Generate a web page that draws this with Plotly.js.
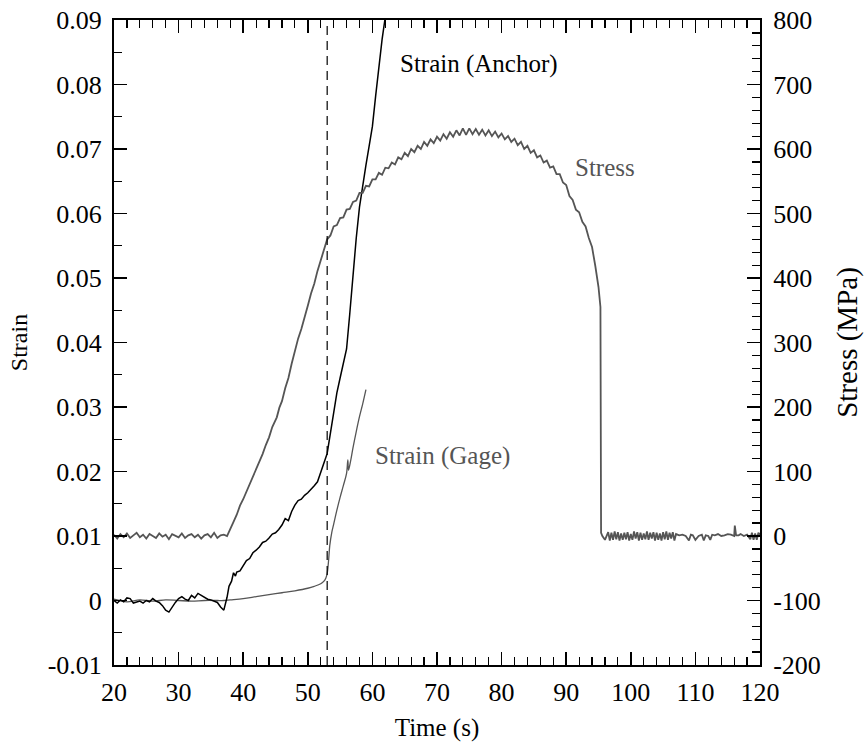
<!DOCTYPE html>
<html>
<head>
<meta charset="utf-8">
<script src="https://cdn.plot.ly/plotly-3.0.1.min.js"></script>
<style>html,body{margin:0;padding:0;background:#fff;}#chart{width:864px;height:747px;}</style>
</head>
<body>
<div id="chart"></div>
<script>
// Stress (MPa) vs time (s)
var stressT = [20,20.5,21,21.5,22,22.5,23,23.5,24,24.5,25,25.5,26,26.5,27,27.5,28,28.5,29,29.5,30,30.5,31,31.5,32,32.5,33,33.5,34,34.5,35,35.5,36,36.5,37,37.5,
  38,38.5,39,39.5,40,40.6,41,41.5,42,42.6,43,43.5,44,44.5,45.2,45.6,46,46.5,47,47.5,48,48.5,49,49.5,50,50.5,51,51.5,52,52.5,
  53,53.5,54,54.5,55,55.5,56,56.5,57,57.5,58,58.5,59,59.5,60,60.5,61,61.5,62,62.5,63,63.5,64,64.5,65,65.5,66,66.5,67,67.5,68,68.5,69,69.5,
  70,70.5,71,71.5,72,72.5,73,73.5,74,74.5,75,75.5,76,76.5,77,77.5,78,78.5,79,79.5,80,80.5,81,81.5,82,82.5,83,83.5,84,84.5,85,85.5,86,86.5,87,87.5,88,88.5,89,89.5,
  90,90.5,91,91.5,92,92.5,93,93.5,94,94.5,95,95.3,95.4,
  95.6,96,96.5,96.75,97,97.25,97.5,97.75,98,98.25,98.5,98.75,99,99.25,99.5,99.75,100,100.25,100.5,100.75,101,101.25,101.5,101.75,102,102.25,102.5,102.75,103,103.25,103.5,103.75,104,104.25,104.5,104.75,105,105.25,105.5,105.75,106,106.25,106.5,106.75,107,
  107.5,108,108.5,109,109.3,109.6,110,110.5,111,111.3,111.6,112,112.3,112.6,113,113.5,114,114.5,115,115.5,116,116.1,116.3,116.7,117,117.5,118,118.5,118.75,119,119.25,119.5,119.75,120];
var stressV = [2,-4,3,-2,4,-3,1,5,-2,2,-4,3,0,-3,4,-1,2,-5,3,0,-2,4,-3,1,3,-2,2,-4,1,3,-2,5,-3,1,2,0,
  10,22,33,47,57,71,79,93,103,119,127,141,153,169,184,199,209,229,245,267,287,306,321,341,357,376,391,411,427,445,
  460,466,480,482,493,494,506,507,518,520,532,532,543,542,553,553,563,560,571,570,579,576,587,584,594,589,600,595,605,600,611,605,615,609,
  619,613,623,616,626,619,629,621,632,622,632,623,631,622,630,621,629,620,627,618,624,615,620,611,616,606,611,600,605,594,598,587,590,579,582,571,573,561,561,548,
  544,527,521,506,502,487,480,462,448,419,386,355,5,
  0,-6,6,-7,5,-6,7,-5,6,-7,4,-6,5,-5,6,-7,3,-6,7,-4,6,-7,5,-6,4,-5,7,-6,5,-4,6,-7,5,-6,4,-7,6,-5,7,-6,5,-4,6,-7,3,
  1,2,0,-7,2,1,-6,0,2,-7,1,0,-6,2,1,3,0,1,3,2,0,16,1,1,3,0,2,-5,5,-6,4,-6,5,2];

// Strain (Gage) vs time (s)
var gageT = [20,22,24,26,28,30,32,34,36,37,38,40,42,44,46,48,50,51,52,52.5,52.8,53,53.2,53.4,53.7,54,54.5,55,55.5,56,56.2,56.3,56.6,57,57.5,58,58.5,59];
var gageV = [0.0002,-0.0002,0.0001,-0.0001,0.0001,0,-0.0001,0,0,0,0.0001,0.0003,0.0006,0.0009,0.0012,0.0015,0.0019,0.0022,0.0026,0.0030,0.0035,0.0042,0.0060,0.0085,0.0105,0.0118,0.0140,0.0160,0.0178,0.0197,0.0218,0.0202,0.0215,0.0237,0.0262,0.0285,0.0305,0.0327];

// Strain (Anchor) vs time (s)
var anchorT = [20,20.5,21,21.5,22,22.5,23,23.5,24,24.5,25,25.5,26,26.5,27,27.5,28,28.5,29,29.5,30,30.5,31,31.5,32,32.5,33,33.5,34,34.5,35,35.5,36,36.5,37,
  37.5,37.8,38.2,38.5,38.8,39,39.5,40,40.5,41,41.5,42,42.5,43,43.5,44,44.5,45,45.5,46,46.5,47,47.5,48,48.5,49,49.5,50,50.5,51,51.5,52,52.5,52.8,53,
  53.3,53.7,54,54.5,55,55.5,56,56.5,57,57.5,58,58.5,59,59.5,60,60.5,61,61.5,62,62.3];
var anchorV = [0,-0.0004,0.0001,-0.0002,0.0004,0.0003,-0.0004,-0.0003,-0.0001,-0.0004,0,-0.0002,0.0003,-0.0001,-0.0003,-0.0008,-0.0015,-0.0018,-0.0010,-0.0003,0.0003,0.0006,0.0002,0,0.0008,0.0004,0.0011,0.0008,0.0004,0.0002,0.0001,-0.0001,-0.0003,-0.0010,-0.0015,
  0.0005,0.0022,0.0030,0.0043,0.0038,0.0044,0.0046,0.0055,0.0062,0.0065,0.0074,0.0078,0.0083,0.0090,0.0092,0.0097,0.0103,0.0105,0.0110,0.0117,0.0127,0.0124,0.0138,0.0148,0.0155,0.0157,0.0163,0.0167,0.0172,0.0178,0.0184,0.0200,0.0213,0.0222,0.0228,
  0.0248,0.0270,0.0292,0.0322,0.0345,0.0368,0.0390,0.0445,0.0505,0.0562,0.0610,0.0645,0.0675,0.0705,0.0735,0.0782,0.0827,0.0870,0.0905,0.0935];

var markerTime = 53;
var xTicks = [20,30,40,50,60,70,80,90,100,110,120];
var yTicks = [-0.01,0,0.01,0.02,0.03,0.04,0.05,0.06,0.07,0.08,0.09];
var yTickText = ['-0.01','0','0.01','0.02','0.03','0.04','0.05','0.06','0.07','0.08','0.09'];
var y2Ticks = [-200,-100,0,100,200,300,400,500,600,700,800];
var y2TickText = ['-200','-100','0','100','200','300','400','500','600','700','800'];

var FONT = 'Liberation Serif, Times New Roman, serif';
var tickFont = {family: FONT, size: 26, color: '#000'};

var traces = [
  {x: stressT, y: stressV, yaxis: 'y2', mode: 'lines', line: {color: '#555555', width: 1.8}, hoverinfo: 'skip'},
  {x: gageT, y: gageV, mode: 'lines', line: {color: '#555555', width: 1.3, shape: 'spline'}, hoverinfo: 'skip'},
  {x: anchorT, y: anchorV, mode: 'lines', line: {color: '#000000', width: 1.5}, hoverinfo: 'skip'}
];

var layout = {
  width: 864, height: 747,
  margin: {l: 114, r: 104, t: 20, b: 82},
  paper_bgcolor: '#fff', plot_bgcolor: '#fff',
  showlegend: false,
  font: {family: FONT, color: '#000'},
  xaxis: {
    range: [20, 120], tickvals: xTicks, ticktext: xTicks.map(String),
    ticks: 'inside', ticklen: 13, tickwidth: 1.5, tickcolor: '#000',
    minor: {dtick: 2, tick0: 20, ticks: 'inside', ticklen: 8, tickwidth: 1.2, tickcolor: '#000'},
    showline: true, linewidth: 2, linecolor: '#000', mirror: 'ticks',
    showgrid: false, zeroline: false, tickfont: tickFont, ticklabelstandoff: 3,
    title: {text: 'Time (s)', font: {family: FONT, size: 25, color: '#000'}, standoff: 12}
  },
  yaxis: {
    range: [-0.01, 0.09], tickvals: yTicks, ticktext: yTickText,
    ticks: 'inside', ticklen: 13, tickwidth: 1.5, tickcolor: '#000',
    minor: {dtick: 0.005, tick0: 0, ticks: 'inside', ticklen: 8, tickwidth: 1.2, tickcolor: '#000'},
    showline: true, linewidth: 2, linecolor: '#000', mirror: false,
    showgrid: false, zeroline: false, tickfont: tickFont, ticklabelstandoff: 5,
    title: {text: 'Strain', font: {family: FONT, size: 24, color: '#000'}, standoff: 13}
  },
  yaxis2: {
    overlaying: 'y', side: 'right',
    range: [-200, 800], tickvals: y2Ticks, ticktext: y2TickText,
    ticks: 'inside', ticklen: 13, tickwidth: 1.5, tickcolor: '#000',
    minor: {dtick: 20, tick0: 0, ticks: 'inside', ticklen: 8, tickwidth: 1.2, tickcolor: '#000'},
    showline: true, linewidth: 2, linecolor: '#000',
    showgrid: false, zeroline: false, tickfont: tickFont, ticklabelstandoff: 6,
    title: {text: 'Stress (MPa)', font: {family: FONT, size: 29, color: '#000'}, standoff: 26}
  },
  shapes: [
    {type: 'line', xref: 'x', yref: 'paper', x0: markerTime, x1: markerTime, y0: 0, y1: 1,
     line: {color: '#000', width: 1.2, dash: '9px,6px'}}
  ],
  annotations: [
    {x: 64.0, y: 0.0832, xref: 'x', yref: 'y', text: 'Strain (Anchor)', showarrow: false, xanchor: 'left', yanchor: 'middle',
     font: {family: FONT, size: 25, color: '#000'}},
    {x: 91.0, y: 0.0672, xref: 'x', yref: 'y', text: 'Stress', showarrow: false, xanchor: 'left', yanchor: 'middle',
     font: {family: FONT, size: 25, color: '#555555'}},
    {x: 60.1, y: 0.0224, xref: 'x', yref: 'y', text: 'Strain (Gage)', showarrow: false, xanchor: 'left', yanchor: 'middle',
     font: {family: FONT, size: 25, color: '#555555'}}
  ]
};

Plotly.newPlot('chart', traces, layout, {staticPlot: true, displayModeBar: false});
</script>
</body>
</html>
